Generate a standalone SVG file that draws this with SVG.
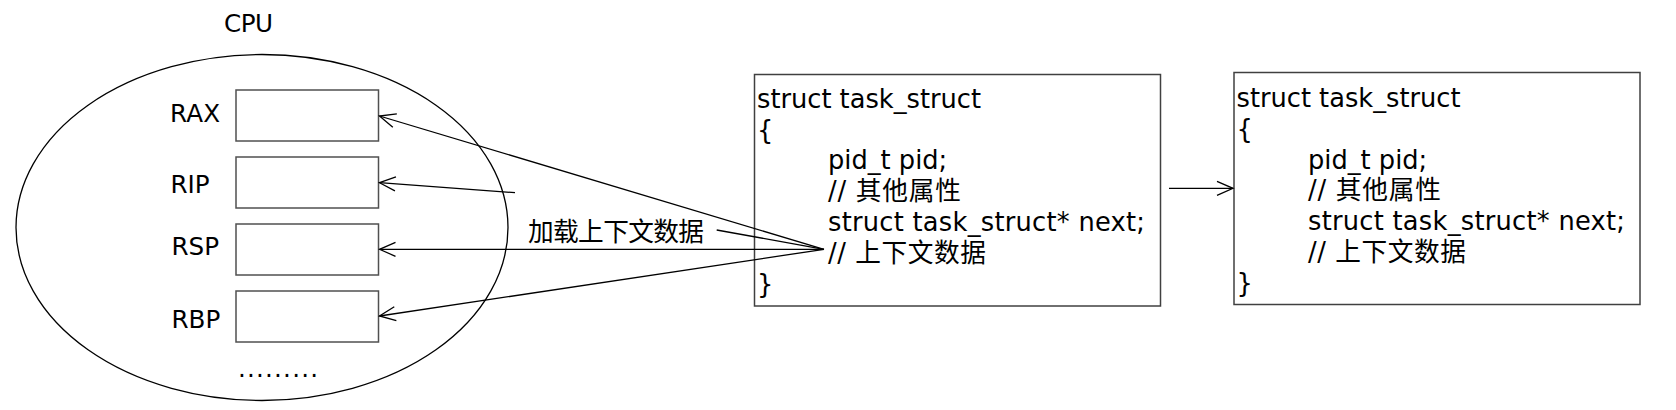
<svg xmlns="http://www.w3.org/2000/svg" width="1676" height="410" viewBox="0 0 1676 410">
<style>
text { font-family: "DejaVu Sans", "Noto Sans CJK SC", sans-serif; fill: #000; }
.lbl { font-size: 24.6px; }
.code { font-size: 25.7px; }
.reg { fill: #fff; stroke: #505050; stroke-width: 1.5; }
.box { fill: #fff; stroke: #404040; stroke-width: 1.5; }
.conn line { stroke: #000; stroke-width: 1.3; fill: none; }
</style>
<defs>
<marker id="arr" viewBox="-18 -10 20 20" refX="0" refY="0" markerWidth="20" markerHeight="20" markerUnits="userSpaceOnUse" orient="auto">
<path d="M-16,-7 L0,0 L-16,7" fill="none" stroke="#000" stroke-width="1.3"/>
</marker>
</defs>
<rect width="1676" height="410" fill="#fff"/>
<g id="cpu">
<text class="lbl" x="224" y="32" textLength="49">CPU</text>
<ellipse cx="262" cy="227.5" rx="246" ry="173" fill="none" stroke="#000" stroke-width="1.3"/>
<text class="lbl" x="238" y="377" textLength="80" lengthAdjust="spacing">.........</text>
</g>
<g id="rax">
<text class="lbl" x="170" y="122" textLength="50">RAX</text>
<rect class="reg" x="236" y="90" width="142.5" height="51"/>
</g>
<g id="rip">
<text class="lbl" x="170.5" y="193">RIP</text>
<rect class="reg" x="236" y="157" width="142.5" height="51"/>
</g>
<g id="rsp">
<text class="lbl" x="171.5" y="255">RSP</text>
<rect class="reg" x="236" y="224" width="142.5" height="51"/>
</g>
<g id="rbp">
<text class="lbl" x="171.5" y="328">RBP</text>
<rect class="reg" x="236" y="291" width="142.5" height="51"/>
</g>
<g id="task1">
<rect class="box" x="754.5" y="74.5" width="406" height="231.5"/>
<text class="code" x="757" y="107.7" textLength="224">struct task_struct</text>
<text class="code" x="757" y="138.5">{</text>
<text class="code" x="828" y="169.3">pid_t pid;</text>
<text class="code" x="828" y="200" textLength="133">// 其他属性</text>
<text class="code" x="828" y="231" textLength="317">struct task_struct* next;</text>
<text class="code" x="828" y="261.7" textLength="158">// 上下文数据</text>
<text class="code" x="757" y="292.5">}</text>
</g>
<g id="task2">
<rect class="box" x="1234" y="72.5" width="406" height="232"/>
<text class="code" x="1236.5" y="107" textLength="224">struct task_struct</text>
<text class="code" x="1236.5" y="137.8">{</text>
<text class="code" x="1308" y="168.6">pid_t pid;</text>
<text class="code" x="1308" y="199.3" textLength="133">// 其他属性</text>
<text class="code" x="1308" y="230.3" textLength="317">struct task_struct* next;</text>
<text class="code" x="1308" y="261" textLength="158">// 上下文数据</text>
<text class="code" x="1236.5" y="291.8">}</text>
</g>
<g id="label">
<text class="code" x="528" y="241" textLength="176">加载上下文数据</text>
</g>
<g class="conn" id="connectors">
<line x1="824" y1="249.3" x2="379.5" y2="116" marker-end="url(#arr)"/>
<line x1="515" y1="192.7" x2="379.5" y2="182.7" marker-end="url(#arr)"/>
<line x1="824" y1="249.3" x2="379.5" y2="249.3" marker-end="url(#arr)"/>
<line x1="824" y1="249.3" x2="379.5" y2="316" marker-end="url(#arr)"/>
<line x1="716.7" y1="230" x2="824" y2="249.3"/>
<line x1="1169" y1="188.3" x2="1233" y2="188.3" marker-end="url(#arr)"/>
</g>
</svg>
